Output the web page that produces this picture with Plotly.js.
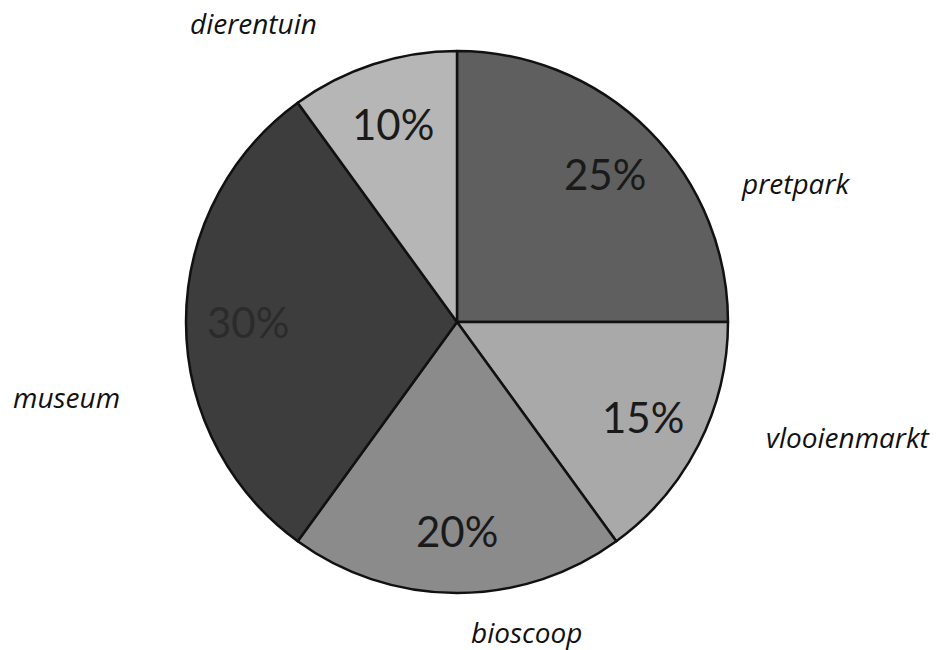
<!DOCTYPE html>
<html>
<head>
<meta charset="utf-8">
<script src="https://cdn.plot.ly/plotly-3.0.1.min.js"></script>
<style>html,body{margin:0;padding:0;background:#fff;}#chart{width:937px;height:650px;}</style>
</head>
<body>
<div id="chart"></div>
<script>
var categories = ["pretpark", "vlooienmarkt", "bioscoop", "museum", "dierentuin"];
var values = [25, 15, 20, 30, 10];
var sliceColors = ["#5f5f5f", "#a9a9a9", "#8b8b8b", "#3d3d3d", "#b6b6b6"];
var pctTextColors = ["#1a1a1a", "#1a1a1a", "#1a1a1a", "#2b2b2b", "#1a1a1a"];

var W = 937, H = 650;
var cx = 457, cy = 322, R = 271;

var trace = {
  type: "pie",
  labels: categories,
  values: values,
  sort: false,
  direction: "clockwise",
  rotation: 0,
  marker: { colors: sliceColors, line: { color: "#111111", width: 2.5 } },
  textinfo: "none",
  hoverinfo: "label+percent",
  showlegend: false,
  domain: { x: [(cx - R) / W, (cx + R) / W], y: [1 - (cy + R) / H, 1 - (cy - R) / H] }
};

// category labels outside the pie
var labelFont = { family: "'Open Sans', 'Noto Sans', sans-serif", size: 28, color: "#111", style: "italic" };
var labelPos = {
  "dierentuin": [253, 23],
  "pretpark": [795, 183],
  "museum": [66, 397],
  "vlooienmarkt": [848, 437],
  "bioscoop": [526, 632]
};
var annotations = categories.map(function (c) {
  return {
    text: c, showarrow: false, xref: "paper", yref: "paper",
    x: labelPos[c][0] / W, y: 1 - labelPos[c][1] / H,
    xanchor: "center", yanchor: "middle", font: labelFont
  };
});

// percentage labels inside slices, placed along each slice's mid-angle
var total = values.reduce(function (a, b) { return a + b; }, 0);
var cum = 0;
var rFrac = 0.77;
values.forEach(function (v, i) {
  var mid = (cum + v / 2) / total * 2 * Math.PI;
  cum += v;
  var px = cx + rFrac * R * Math.sin(mid);
  var py = cy - rFrac * R * Math.cos(mid);
  annotations.push({
    text: v + "%", showarrow: false, xref: "paper", yref: "paper",
    x: px / W, y: 1 - py / H, xanchor: "center", yanchor: "middle",
    font: { family: "Lato, 'Noto Sans', sans-serif", size: 42, color: pctTextColors[i] }
  });
});

var layout = {
  width: W, height: H,
  margin: { l: 0, r: 0, t: 0, b: 0 },
  paper_bgcolor: "#ffffff",
  plot_bgcolor: "#ffffff",
  annotations: annotations
};

Plotly.newPlot("chart", [trace], layout, { staticPlot: true, displayModeBar: false });
</script>
</body>
</html>
